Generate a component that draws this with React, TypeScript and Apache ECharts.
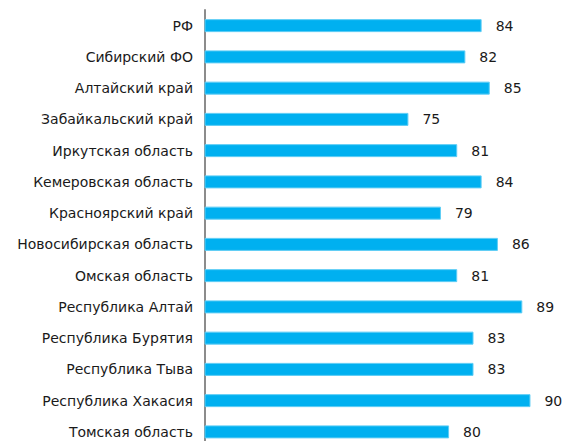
import React, { useEffect, useRef } from "react";
import * as echarts from "echarts";

const categories = [
  "РФ",
  "Сибирский ФО",
  "Алтайский край",
  "Забайкальский край",
  "Иркутская область",
  "Кемеровская область",
  "Красноярский край",
  "Новосибирская область",
  "Омская область",
  "Республика Алтай",
  "Республика Бурятия",
  "Республика Тыва",
  "Республика Хакасия",
  "Томская область",
];
const values = [84, 82, 85, 75, 81, 84, 79, 86, 81, 89, 83, 83, 90, 80];

const FONT = "DejaVu Sans, Liberation Sans, Arial, sans-serif";

export default function App() {
  const ref = useRef<HTMLDivElement>(null);
  useEffect(() => {
    document.body.style.margin = "0";
    document.body.style.overflow = "hidden";
    document.documentElement.style.overflow = "hidden";
    const chart = echarts.init(ref.current!, null, { renderer: "svg" });
    chart.setOption({
      animation: false,
      backgroundColor: "#ffffff",
      grid: { left: 205, top: 10, right: 0, height: 437.5, containLabel: false },
      xAxis: {
        type: "value",
        min: 50,
        max: 94,
        show: false,
      },
      yAxis: {
        type: "category",
        data: categories,
        inverse: true,
        axisLine: { show: true, lineStyle: { color: "#8c8c8c", width: 2 } },
        axisTick: { show: false },
        axisLabel: {
          margin: 12,
          color: "#1a1a1a",
          fontSize: 14,
          fontFamily: FONT,
        },
      },
      series: [
        {
          type: "bar",
          data: values,
          barWidth: 13,
          itemStyle: { color: "#00b0f0", borderColor: "#5fcdf5", borderWidth: 1 },
          label: {
            show: true,
            position: "right",
            distance: 14,
            color: "#1a1a1a",
            fontSize: 14,
            fontFamily: FONT,
          },
        },
      ],
    });
    return () => chart.dispose();
  }, []);
  return <div ref={ref} style={{ width: 563, height: 448 }} />;
}
